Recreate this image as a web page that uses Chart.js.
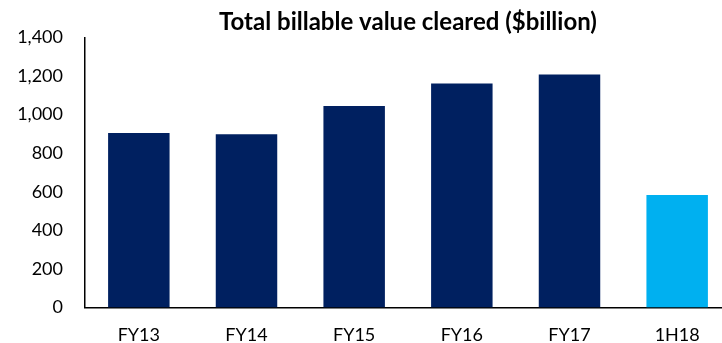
<!DOCTYPE html>
<html>
<head>
<meta charset="utf-8">
<title>Total billable value cleared</title>
<script src="https://cdn.jsdelivr.net/npm/chart.js@4/dist/chart.umd.min.js"></script>
<style>
  html, body { margin: 0; padding: 0; background: #fff; overflow: hidden; }
  #wrap { width: 731px; height: 343px; }
</style>
</head>
<body>
<div id="wrap"><canvas id="valueChart" width="731" height="343"></canvas></div>
<script>
const periods = ['FY13', 'FY14', 'FY15', 'FY16', 'FY17', '1H18'];
const billableValue = [905, 898, 1045, 1162, 1208, 583];
const yTicks = [0, 200, 400, 600, 800, 1000, 1200, 1400];

const NAVY = '#002060';
const LIGHT_BLUE = '#00B0F0';
const FONT = 'Lato, "Open Sans", sans-serif';

// the half-year bar is picked out in light blue
const barColors = periods.map((p, i) => (i === periods.length - 1 ? LIGHT_BLUE : NAVY));

function initChart() {
  const ctx = document.getElementById('valueChart');
  if (!ctx) return;

  return new Chart(ctx, {
    type: 'bar',
    data: {
      labels: periods,
      datasets: [
        {
          label: 'Total billable value cleared',
          data: billableValue,
          backgroundColor: barColors,
          borderWidth: 0,
          categoryPercentage: 1,
          barPercentage: 0.571,
        }
      ]
    },
    options: {
      responsive: false,
      animation: false,
      devicePixelRatio: 1,
      layout: { padding: { top: 0, right: 0, bottom: 0, left: 0 } },
      plugins: {
        legend: { display: false },
        tooltip: { enabled: false },
        title: {
          display: true,
          text: 'Total billable value cleared ($billion)',
          fullSize: false,
          color: '#000',
          font: { family: FONT, size: 24, weight: 'bold', lineHeight: 1.2 },
          padding: { top: 7.5, bottom: 1.2 }
        }
      },
      scales: {
        x: {
          grid: { display: false, drawTicks: false },
          border: { display: true, color: '#000', width: 1.5 },
          ticks: {
            color: '#000',
            padding: 17,
            font: { family: FONT, size: 18 }
          },
          afterFit(scale) { scale.height = 35.5; }
        },
        y: {
          min: 0,
          max: 1400,
          grid: { display: false, drawTicks: false },
          border: { display: true, color: '#000', width: 1.5 },
          afterBuildTicks(scale) { scale.ticks = yTicks.map((v) => ({ value: v })); },
          ticks: {
            color: '#000',
            padding: 22,
            font: { family: FONT, size: 18 },
            callback: (v) => Number(v).toLocaleString('en-US')
          },
          afterFit(scale) { scale.width = 85; }
        }
      }
    }
  });
}

initChart();
</script>
</body>
</html>
